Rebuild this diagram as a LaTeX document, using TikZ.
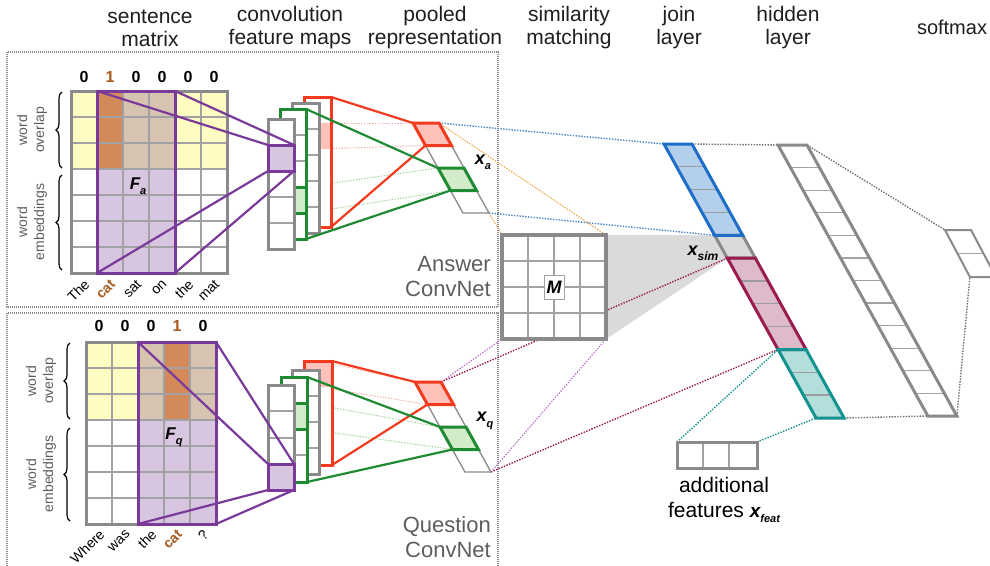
\documentclass[tikz,border=0pt]{standalone}
\usepackage{fontspec}
\setmainfont{Liberation Sans}
\usetikzlibrary{decorations.pathreplacing}
\definecolor{gborder}{HTML}{8A8A8C}
\definecolor{gline}{HTML}{A2A2A4}
\definecolor{pur}{HTML}{7A3A9A}
\definecolor{lpur}{HTML}{D8C6E1}
\definecolor{yel}{HTML}{FEFCC0}
\definecolor{tanc}{HTML}{D6C4B0}
\definecolor{ora}{HTML}{D4895A}
\definecolor{brn}{HTML}{A85A1E}
\definecolor{rd}{HTML}{F23A1E}
\definecolor{lrd}{HTML}{FFC1BA}
\definecolor{frd}{HTML}{F4B0A8}
\definecolor{gn}{HTML}{1E8A32}
\definecolor{lgn}{HTML}{D2EBC8}
\definecolor{fgn}{HTML}{A6D19E}
\definecolor{bl}{HTML}{1E6EC8}
\definecolor{lbl}{HTML}{B4CFEB}
\definecolor{dbl}{HTML}{4A86C8}
\definecolor{mg}{HTML}{9A1B50}
\definecolor{lmg}{HTML}{DDBBCB}
\definecolor{tl}{HTML}{13938F}
\definecolor{ltl}{HTML}{B2DFDC}
\definecolor{shd}{HTML}{DADADA}
\definecolor{orl}{HTML}{F0A447}
\definecolor{ppl}{HTML}{B66CC4}
\definecolor{ctx}{HTML}{5E5E5E}
\definecolor{dgr}{HTML}{707070}
\newcommand\vlab[4]{{\fontsize{#1}{#1}\selectfont\bfseries\itshape #3\raisebox{-0.3em}{\fontsize{#2}{#2}\selectfont #4}}}
\tikzset{
  gb/.style={draw=gborder, line width=3pt},
  gl/.style={draw=gline, line width=1.3pt},
  pb/.style={draw=pur, line width=3pt},
  pl/.style={draw=pur, line width=2.2pt},
  rb/.style={draw=rd, line width=3pt},
  gnb/.style={draw=gn, line width=3pt},
  rl/.style={draw=rd, line width=2.2pt},
  gnl/.style={draw=gn, line width=2.2pt},
  dotl/.style={line width=1.4pt, dash pattern=on 1.4pt off 1.4pt},
  dbox/.style={draw=gborder, line width=1.3pt, dash pattern=on 1pt off 1pt},
  hdr/.style={align=center, font=\fontsize{21}{23}\selectfont, text=black!88, inner sep=0pt},
  ctxt/.style={align=right, font=\fontsize{22}{25}\selectfont, text=ctx, inner sep=0pt},
  numlab/.style={font=\fontsize{16}{16}\selectfont\bfseries, inner sep=0pt},
  wlab/.style={font=\fontsize{14}{14}\selectfont, inner sep=0pt, rotate=45, anchor=east},
  sidelab/.style={align=center, font=\fontsize{14}{17}\selectfont, text=ctx, inner sep=0pt, rotate=90},
  brc/.style={decorate, decoration={brace, amplitude=6pt}, line width=1.2pt},
}
\begin{document}
\begin{tikzpicture}[x=1pt,y=-1pt, line join=miter]
\clip (0,0) rectangle (990,565);
\fill[white] (0,0) rectangle (990,565);

% ---------- coordinates ----------
\begin{scope}[shift={(664,144)}, xslant=-0.555]
 \coordinate (jTL) at (0,0);
 \coordinate (jTR) at (28,0);
 \coordinate (jGyTL) at (0,91.33);
 \coordinate (jGyBL) at (0,114.17);
 \coordinate (jTlTL) at (0,205.5);
 \coordinate (jBL) at (0,274);
 \coordinate (jBR) at (28,274);
\end{scope}
\begin{scope}[shift={(778,145)}, xslant=-0.553]
 \coordinate (hTL) at (0,0);
 \coordinate (hTR) at (29,0);
 \coordinate (hBL) at (0,271);
 \coordinate (hBR) at (29,271);
\end{scope}
\begin{scope}[shift={(945,230)}, xslant=-0.53]
 \coordinate (sTL) at (0,0);
 \coordinate (sBL) at (0,47);
\end{scope}
\begin{scope}[shift={(413,123)}, xslant=-0.555]
 \coordinate (xaTL) at (0,0);
 \coordinate (xaTR) at (26,0);
 \coordinate (xaRBL) at (0,22.5);
 \coordinate (xaGTL) at (0,45);
 \coordinate (xaGBL) at (0,67.5);
 \coordinate (xaBR) at (26,90);
\end{scope}
\begin{scope}[shift={(415,382)}, xslant=-0.555]
 \coordinate (xqTL) at (0,0);
 \coordinate (xqTR) at (26,0);
 \coordinate (xqRBL) at (0,22.5);
 \coordinate (xqGTL) at (0,45);
 \coordinate (xqGBL) at (0,67.5);
 \coordinate (xqBR) at (26,90);
\end{scope}
\coordinate (MTL) at (502,235);
\coordinate (MTR) at (606,235);
\coordinate (MBL) at (502,339);
\coordinate (MBR) at (606,339);
\coordinate (aTL) at (677,442);
\coordinate (aTR) at (757,442);

% ---------- dotted boxes ----------
\draw[dbox] (7,52) rectangle (498,307);
\draw[dbox] (7,313) rectangle (498,600);

% ---------- shaded wedge ----------
\fill[shd] (MTR) -- (jGyTL) -- (jGyBL) -- (MBR) -- cycle;

% ---------- dotted connectors ----------
\draw[dotl, draw=dbl] (xaTR) -- (jTL);
\draw[dotl, draw=dbl] (xaBR) -- (jGyTL);
\draw[dotl, draw=orl, line width=1.1pt] (xaTR) -- (MTR);
\draw[dotl, draw=orl, line width=1.1pt] (xaBR) -- (MTL);
\draw[dotl, draw=ppl, line width=1.1pt] (xqTR) -- (MBL);
\draw[dotl, draw=ppl, line width=1.1pt] (xqBR) -- (MBR);
\draw[dotl, draw=mg] (xqTR) -- (jGyBL);
\draw[dotl, draw=mg] (xqBR) -- (jTlTL);
\draw[dotl, draw=tl] (aTL) -- (jTlTL);
\draw[dotl, draw=tl] (aTR) -- (jBL);
\draw[dotl, draw=dgr] (jTR) -- (hTL);
\draw[dotl, draw=dgr] (jBR) -- (hBL);
\draw[dotl, draw=dgr] (hTR) -- (sTL);
\draw[dotl, draw=dgr] (hBR) -- (sBL);
% faint conv -> pool
\coordinate (caR1) at (319,123); \coordinate (caR2) at (319,149);
\coordinate (caG1) at (306,187); \coordinate (caG2) at (306,213);
\coordinate (cqR1) at (319,361); \coordinate (cqR2) at (319,387);
\coordinate (cqG1) at (307,403); \coordinate (cqG2) at (307,429);
\draw[dotl, draw=frd, line width=1pt] (caR1) -- (xaTL);
\draw[dotl, draw=frd, line width=1pt] (caR2) -- (xaRBL);
\draw[dotl, draw=fgn, line width=1pt] (caG1) -- (xaGTL);
\draw[dotl, draw=fgn, line width=1pt] (caG2) -- (xaGBL);
\draw[dotl, draw=frd, line width=1pt] (cqR1) -- (xqTL);
\draw[dotl, draw=frd, line width=1pt] (cqR2) -- (xqRBL);
\draw[dotl, draw=fgn, line width=1pt] (cqG1) -- (xqGTL);
\draw[dotl, draw=fgn, line width=1pt] (cqG2) -- (xqGBL);

% ---------- headers ----------
\node[hdr] (h1) at (150,28) {sentence\\matrix};
\node[hdr] (h2) at (290,28) {convolution\\feature maps};
\node[hdr] (h3) at (435,28) {pooled\\representation};
\node[hdr] (h4) at (569,28) {similarity\\matching};
\node[hdr] (h5) at (679,28) {join\\layer};
\node[hdr] (h6) at (788,28) {hidden\\layer};
\node[font=\fontsize{20}{22}\selectfont, text=black!88, inner sep=0pt] (h7) at (952,27) {softmax};

% ---------- top sentence matrix ----------
\fill[yel] (71,91) rectangle (97,169);
\fill[ora] (97,91) rectangle (123,169);
\fill[tanc] (123,91) rectangle (175,169);
\fill[yel] (175,91) rectangle (227,169);
\fill[lpur] (97,169) rectangle (175,273);
\foreach \i in {1,...,5} \draw[gl] ({71+26*\i},91) -- ({71+26*\i},273);
\foreach \j in {1,...,6} \draw[gl] (71,{91+26*\j}) -- (227,{91+26*\j});
\draw[gb] (71,91) rectangle (227,273);
\draw[pb] (97,91) rectangle (175,273);
\coordinate (faTL) at (97,91); \coordinate (faTR) at (175,91);
\coordinate (faBL) at (97,273); \coordinate (faBR) at (175,273);
\node[numlab] (na0) at (84,77) {0};
\node[numlab, text=brn] (na1) at (110,77) {1};
\node[numlab] (na2) at (136,77) {0};
\node[numlab] (na3) at (162,77) {0};
\node[numlab] (na4) at (188,77) {0};
\node[numlab] (na5) at (214,77) {0};
\node[wlab] (wa0) at (87,282) {The};
\node[wlab, text=brn, font=\fontsize{14}{14}\selectfont\bfseries] (wa1) at (113,282) {cat};
\node[wlab] (wa2) at (139,282) {sat};
\node[wlab] (wa3) at (165,282) {on};
\node[wlab] (wa4) at (191,282) {the};
\node[wlab] (wa5) at (217,282) {mat};
\node (fa) at (138,186) {\vlab{17}{11}{F}{a}};
\draw[brc] (62,168) -- (62,92);
\draw[brc] (62,270) -- (62,175);
\node[sidelab] (sl1) at (32,130) {word\\overlap};
\node[sidelab] (sl2) at (32,222) {word\\embeddings};

% ---------- bottom sentence matrix ----------
\fill[yel] (86,342) rectangle (138,420);
\fill[tanc] (138,342) rectangle (164,420);
\fill[ora] (164,342) rectangle (190,420);
\fill[tanc] (190,342) rectangle (216,420);
\fill[lpur] (138,420) rectangle (216,524);
\foreach \i in {1,...,4} \draw[gl] ({86+26*\i},342) -- ({86+26*\i},524);
\foreach \j in {1,...,6} \draw[gl] (86,{342+26*\j}) -- (216,{342+26*\j});
\draw[gb] (86,342) rectangle (216,524);
\draw[pb] (138,342) rectangle (216,524);
\coordinate (fqTL) at (138,342); \coordinate (fqTR) at (216,342);
\coordinate (fqBL) at (138,524); \coordinate (fqBR) at (216,524);
\node[numlab] (nq0) at (99,326) {0};
\node[numlab] (nq1) at (125,326) {0};
\node[numlab] (nq2) at (151,326) {0};
\node[numlab, text=brn] (nq3) at (177,326) {1};
\node[numlab] (nq4) at (203,326) {0};
\node[wlab] (wq0) at (102,532) {Where};
\node[wlab] (wq1) at (128,532) {was};
\node[wlab] (wq2) at (154,532) {the};
\node[wlab, text=brn, font=\fontsize{14}{14}\selectfont\bfseries] (wq3) at (180,532) {cat};
\node[wlab] (wq4) at (206,532) {?};
\node (fq) at (174,437) {\vlab{17}{11}{F}{q}};
\draw[brc] (70,419) -- (70,343);
\draw[brc] (70,521) -- (70,428);
\node[sidelab] (sl3) at (41,381) {word\\overlap};
\node[sidelab] (sl4) at (41,474) {word\\embeddings};

% ---------- top conv maps ----------
\fill[white] (304,97) rectangle (331,227);
\fill[lrd] (304,123) rectangle (331,149);
\draw[rb] (304,97) rectangle (331,227);
\fill[white] (292,103) rectangle (319,233);
\foreach \y in {129,155,181,207} \draw[gl] (292,\y) -- (319,\y);
\draw[gb] (292,103) rectangle (319,233);
\fill[white] (280,109) rectangle (306,239);
\fill[lgn] (280,187) rectangle (306,213);
\foreach \y in {135,161} \draw[gl] (280,\y) -- (306,\y);
\draw[gnb] (280,187) rectangle (306,213);
\draw[gnb] (280,109) rectangle (306,239);
\fill[white] (268,119) rectangle (294,249);
\fill[lpur] (268,145) rectangle (294,171);
\foreach \y in {197,223} \draw[gl] (268,\y) -- (294,\y);
\draw[gb] (268,119) rectangle (294,249);
\draw[pb] (268,145) rectangle (294,171);
\coordinate (caTL) at (268,145); \coordinate (caTR) at (294,145);
\coordinate (caBL) at (268,171); \coordinate (caBR) at (294,171);
\coordinate (raT) at (331,97); \coordinate (raB) at (331,227);
\coordinate (gaT) at (306,109); \coordinate (gaB) at (306,239);

% ---------- bottom conv maps ----------
\fill[white] (304,361) rectangle (332,465);
\fill[lrd] (304,361) rectangle (332,387);
\draw[rb] (304,361) rectangle (332,465);
\fill[white] (292,370) rectangle (319,474);
\foreach \y in {396,422,448} \draw[gl] (292,\y) -- (319,\y);
\draw[gb] (292,370) rectangle (319,474);
\fill[white] (281,377) rectangle (307,482);
\fill[lgn] (281,403) rectangle (307,429);
\foreach \y in {455} \draw[gl] (281,\y) -- (307,\y);
\draw[gnb] (281,403) rectangle (307,429);
\draw[gnb] (281,377) rectangle (307,482);
\fill[white] (268,385) rectangle (294,490);
\fill[lpur] (268,464) rectangle (294,490);
\foreach \y in {411,438} \draw[gl] (268,\y) -- (294,\y);
\draw[gb] (268,385) rectangle (294,490);
\draw[pb] (268,464) rectangle (294,490);
\coordinate (cqTL) at (268,464); \coordinate (cqTR) at (294,464);
\coordinate (cqBL) at (268,490); \coordinate (cqBR) at (294,490);
\coordinate (rqT) at (332,361); \coordinate (rqB) at (332,465);
\coordinate (gqT) at (307,377); \coordinate (gqB) at (307,482);

% ---------- purple connectors ----------
\draw[pl] (faTL) -- (caTL);
\draw[pl] (faTR) -- (caTR);
\draw[pl] (faBL) -- (caBL);
\draw[pl] (faBR) -- (caBR);
\draw[pl] (fqTL) -- (cqTL);
\draw[pl] (fqTR) -- (cqTR);
\draw[pl] (fqBL) -- (cqBL);
\draw[pl] (fqBR) -- (cqBR);

% ---------- red / green connectors ----------
\draw[rl] (raT) -- (xaTL);
\draw[rl] (raB) -- (xaRBL);
\draw[gnl] (gaT) -- (xaGTL);
\draw[gnl] (gaB) -- (xaGBL);
\draw[rl] (rqT) -- (xqTL);
\draw[rl] (rqB) -- (xqRBL);
\draw[gnl] (gqT) -- (xqGTL);
\draw[gnl] (gqB) -- (xqGBL);

% ---------- pooled strips ----------
\foreach \ox/\oy in {413/123, 415/382}{
\begin{scope}[shift={(\ox,\oy)}, xslant=-0.555]
 \fill[lrd] (0,0) rectangle (26,22.5);
 \fill[lgn] (0,45) rectangle (26,67.5);
 \draw[draw=gborder, line width=1.3pt] (0,0) rectangle (26,90);
 \draw[draw=gborder, line width=1.3pt] (0,67.5) -- (26,67.5);
 \draw[rb] (0,0) rectangle (26,22.5);
 \draw[gnb] (0,45) rectangle (26,67.5);
\end{scope}
}
\node (xa) at (483,162) {\vlab{18}{11}{x}{a}};
\node (xq) at (485,421) {\vlab{18}{11}{x}{q}};

% ---------- similarity matrix ----------
\fill[white] (MTL) rectangle (MBR);
\foreach \i in {1,2,3} \draw[draw=gline, line width=1.8pt] ({502+26*\i},235) -- ({502+26*\i},339);
\foreach \j in {1,2,3} \draw[draw=gline, line width=1.8pt] (502,{235+26*\j}) -- (606,{235+26*\j});
\draw[gb, line width=3.5pt] (MTL) rectangle (MBR);
\node[fill=white, draw=gline, line width=1pt, inner sep=2.5pt, minimum width=20pt, minimum height=24pt] (mlab) at (554,287) {\fontsize{18}{18}\selectfont\bfseries\itshape M};

% ---------- join layer ----------
\begin{scope}[shift={(664,144)}, xslant=-0.555]
 \fill[lbl] (0,0) rectangle (28,91.33);
 \fill[shd] (0,91.33) rectangle (28,114.17);
 \fill[lmg] (0,114.17) rectangle (28,205.5);
 \fill[ltl] (0,205.5) rectangle (28,274);
 \foreach \k in {1,2,3,6,7,8,10,11} \draw[draw=gborder!85, line width=1.3pt] (0,{22.83*\k}) -- (28,{22.83*\k});
 \draw[gb] (0,91.33) rectangle (28,114.17);
 \draw[draw=bl, line width=3pt] (0,0) rectangle (28,91.33);
 \draw[draw=mg, line width=3pt] (0,114.17) rectangle (28,205.5);
 \draw[draw=tl, line width=3pt] (0,205.5) rectangle (28,274);
\end{scope}
\node (xsim) at (703,253) {\vlab{18}{12}{x}{sim}};

% ---------- hidden layer ----------
\begin{scope}[shift={(778,145)}, xslant=-0.553]
 \fill[white] (0,0) rectangle (29,271);
 \foreach \k in {1,...,11} \draw[gl] (0,{22.58*\k}) -- (29,{22.58*\k});
 \draw[gb] (0,0) rectangle (29,271);
\end{scope}

% ---------- softmax ----------
\begin{scope}[shift={(945,230)}, xslant=-0.53]
 \fill[white] (0,0) rectangle (26,47);
 \draw[gl] (0,23.5) -- (26,23.5);
 \draw[gb, line width=2pt] (0,0) rectangle (26,47);
\end{scope}

% ---------- additional features ----------
\fill[white] (aTL) rectangle (757,468);
\draw[gl] (703,442) -- (703,468);
\draw[gl] (729,442) -- (729,468);
\draw[gb] (aTL) rectangle (757,468);
\node[align=center, font=\fontsize{21}{25}\selectfont, inner sep=0pt] (addl) at (724,500) {additional\\features \vlab{19}{11}{x}{feat}};

% ---------- convnet labels ----------
\node[ctxt, anchor=east] (ansl) at (491,277) {Answer\\ConvNet};
\node[ctxt, anchor=east] (quel) at (491,537) {Question\\ConvNet};
\end{tikzpicture}
\end{document}
